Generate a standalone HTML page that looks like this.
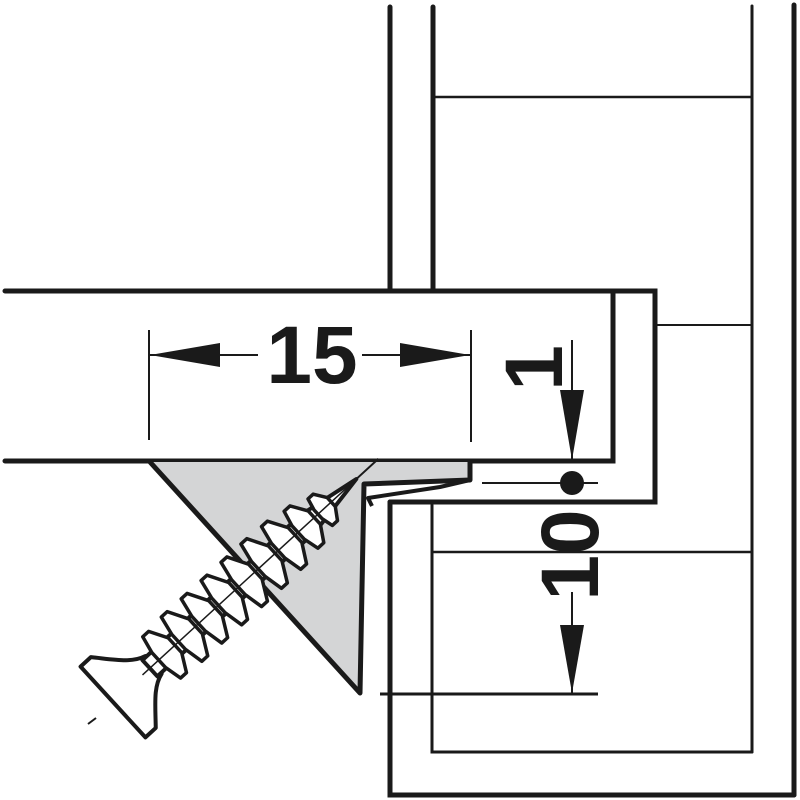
<!DOCTYPE html>
<html><head><meta charset="utf-8"><style>html,body{margin:0;padding:0;background:#fff}svg{display:block}</style></head><body>
<svg width="800" height="800" viewBox="0 0 800 800" xmlns="http://www.w3.org/2000/svg">
<g stroke="#1a1a1a" stroke-linecap="round" fill="none">
<line x1="390" y1="7" x2="390" y2="291" stroke-width="5"/>
<line x1="433" y1="7" x2="433" y2="291" stroke-width="5"/>
<line x1="752" y1="6" x2="752" y2="752" stroke-width="3"/>
<line x1="794" y1="5" x2="794" y2="795" stroke-width="5"/>
<line x1="433" y1="97" x2="752" y2="97" stroke-width="2.5"/>
<line x1="657" y1="325" x2="752" y2="325" stroke-width="2"/>
<line x1="432" y1="552" x2="752" y2="552" stroke-width="2.5"/>
<polyline points="390,502 390,795 794,795" stroke-width="5"/>
<polyline points="432,505 432,752 752,752" stroke-width="3"/>
<polyline points="5,291 655,291 655,502 390,502" stroke-width="5"/>
<polyline points="5,461 613,461 613,291" stroke-width="5"/>
</g>
<polygon points="150,462 470,462 470,480 365,484 360,693" fill="#d4d5d6"/>
<g stroke="#1a1a1a" fill="none" stroke-width="5" stroke-linejoin="round">
<polyline points="150,462 360,693 364,484 470,480 470,462"/>
<polyline points="372,506 368,498 440,487 470,480" stroke-width="4"/>
</g>
<g transform="translate(113,702) rotate(-42.5)" stroke="#1a1a1a" stroke-width="4" fill="#fff" stroke-linejoin="round">
<path d="M0,-48 L0,48 L14,48 C30,30 40,16 55,12 L55,-12 C40,-16 30,-30 14,-48 Z"/>
<rect x="50" y="-11" width="215" height="22"/>
<path d="M265,-11 L330,0 L265,11 Z"/>
<g stroke-width="3.5">
<path d="M66,-28 L74,-28 L84,-10 L84,10 L74,28 L66,28 L62,10 L62,-10 Z"/>
<path d="M93,-30 L101,-30 L112,-10 L112,10 L101,30 L93,30 L89,10 L89,-10 Z"/>
<path d="M120,-30 L128,-30 L139,-10 L139,10 L128,30 L120,30 L116,10 L116,-10 Z"/>
<path d="M147,-30 L155,-30 L166,-10 L166,10 L155,30 L147,30 L143,10 L143,-10 Z"/>
<path d="M174,-30 L182,-30 L193,-10 L193,10 L182,30 L174,30 L170,10 L170,-10 Z"/>
<path d="M201,-30 L209,-30 L220,-10 L220,10 L209,30 L201,30 L197,10 L197,-10 Z"/>
<path d="M228,-29 L236,-29 L247,-10 L247,10 L236,29 L228,29 L224,10 L224,-10 Z"/>
<path d="M255,-25 L263,-25 L273,-9 L273,9 L263,25 L255,25 L251,9 L251,-9 Z"/>
<path d="M281,-18 L288,-18 L296,-6 L296,6 L288,18 L281,18 L278,6 L278,-6 Z"/>
</g>
<line x1="40" y1="0" x2="330" y2="0" stroke-width="1.5"/>
<line x1="330" y1="0" x2="360" y2="0" stroke-width="2"/>
</g>
<line x1="88" y1="724" x2="96" y2="718" stroke="#1a1a1a" stroke-width="2"/>
<g stroke="#1a1a1a" stroke-width="2">
<line x1="149" y1="330" x2="149" y2="440"/>
<line x1="471" y1="330" x2="471" y2="442"/>
<line x1="150" y1="355" x2="258" y2="355"/>
<line x1="362" y1="355" x2="470" y2="355"/>
<line x1="572" y1="340" x2="572" y2="460"/>
<line x1="482" y1="483" x2="598" y2="483"/>
<line x1="572" y1="592" x2="572" y2="693"/>
<line x1="380" y1="694" x2="598" y2="694" stroke-width="3"/>
</g>
<g fill="#1a1a1a">
<polygon points="150,355 220,343 220,367"/>
<polygon points="470,355 400,343 400,367"/>
<polygon points="572,460 560,390 584,390"/>
<polygon points="572,693 560,625 584,625"/>
<circle cx="572" cy="483" r="12"/>
</g>
<g font-family="Liberation Sans, sans-serif" font-weight="bold" font-size="82" fill="#1a1a1a" text-anchor="middle">
<text x="312" y="383">15</text>
<text transform="translate(562,368) rotate(-90)" x="0" y="0">1</text>
<text transform="translate(598,555) rotate(-90)" x="0" y="0">10</text>
</g>
</svg>
</body></html>
